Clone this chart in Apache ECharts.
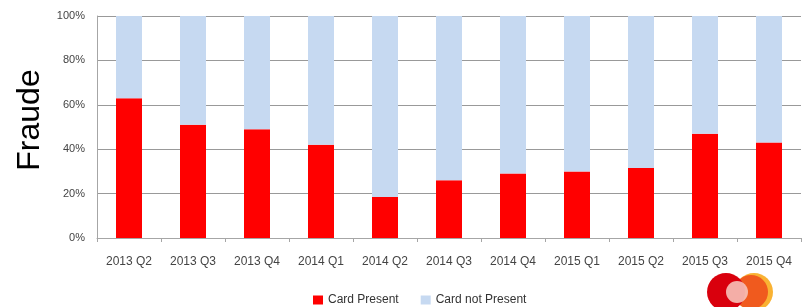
<!DOCTYPE html>
<html>
<head>
<meta charset="utf-8">
<script src="https://cdn.jsdelivr.net/npm/echarts@6/dist/echarts.min.js"></script>
<style>
  html, body { margin: 0; padding: 0; background: #fff; }
  #fraude-bar { width: 804px; height: 307px; }
</style>
</head>
<body>
<div id="fraude-bar"></div>
<script>
// quarters on the x axis
const quarters = ['2013 Q2', '2013 Q3', '2013 Q4', '2014 Q1', '2014 Q2', '2014 Q3',
  '2014 Q4', '2015 Q1', '2015 Q2', '2015 Q3', '2015 Q4']
// share of fraud with card present (%), rest is card not present
const cardPresent = [63, 51, 49, 42, 18.5, 26, 29, 30, 31.5, 47, 43]
const cardNotPresent = cardPresent.map(v => 100 - v)
const yTicks = [0, 20, 40, 60, 80, 100]

const chart = echarts.init(document.getElementById('fraude-bar'))

const option = {
  animation: false,
  grid: {
    left: 97,
    right: 3,
    top: 16,
    bottom: 69
  },
  legend: {
    top: 294,
    left: 313,
    itemWidth: 10,
    itemHeight: 9,
    itemGap: 22,
    padding: 0,
    icon: 'rect',
    textStyle: { fontSize: 12, color: '#333', fontFamily: 'Liberation Sans' },
    data: ['Card Present', 'Card not Present']
  },
  xAxis: {
    type: 'category',
    data: quarters,
    axisLine: { lineStyle: { color: '#a6a6a6' } },
    axisTick: { show: true, length: 4, lineStyle: { color: '#a6a6a6' } },
    axisLabel: { fontSize: 12, color: '#444', margin: 18, fontFamily: 'Liberation Sans' }
  },
  yAxis: {
    type: 'value',
    min: yTicks[0],
    max: yTicks[yTicks.length - 1],
    interval: 20,
    name: 'Fraude',
    nameLocation: 'middle',
    nameGap: 49,
    nameTextStyle: {
      fontSize: 32,
      color: '#000',
      fontFamily: 'Liberation Sans',
      padding: [0, 0, 0, 14]
    },
    axisLine: { show: true, lineStyle: { color: '#a6a6a6' } },
    axisTick: { show: false },
    axisLabel: {
      fontSize: 11,
      color: '#444',
      margin: 12,
      fontFamily: 'Liberation Sans',
      formatter: '{value}%'
    },
    splitLine: { lineStyle: { color: '#999', width: 1 } }
  },
  series: [
    {
      name: 'Card Present',
      type: 'bar',
      stack: 'total',
      barWidth: 26,
      itemStyle: { color: '#ff0000' },
      data: cardPresent
    },
    {
      name: 'Card not Present',
      type: 'bar',
      stack: 'total',
      barWidth: 26,
      itemStyle: { color: '#c6d9f1' },
      data: cardNotPresent
    }
  ],
  // logo in bottom right corner
  graphic: [
    { type: 'circle', shape: { cx: 754, cy: 292, r: 19 }, style: { fill: '#f9b233' }, silent: true },
    { type: 'circle', shape: { cx: 751, cy: 292, r: 17 }, style: { fill: '#f05a1e' }, silent: true },
    { type: 'circle', shape: { cx: 726, cy: 292, r: 19 }, style: { fill: '#d9000d' }, silent: true },
    { type: 'circle', shape: { cx: 737, cy: 292, r: 11 }, style: { fill: '#f6c1b8', opacity: 0.9 }, silent: true }
  ]
}

chart.setOption(option)
</script>
</body>
</html>
